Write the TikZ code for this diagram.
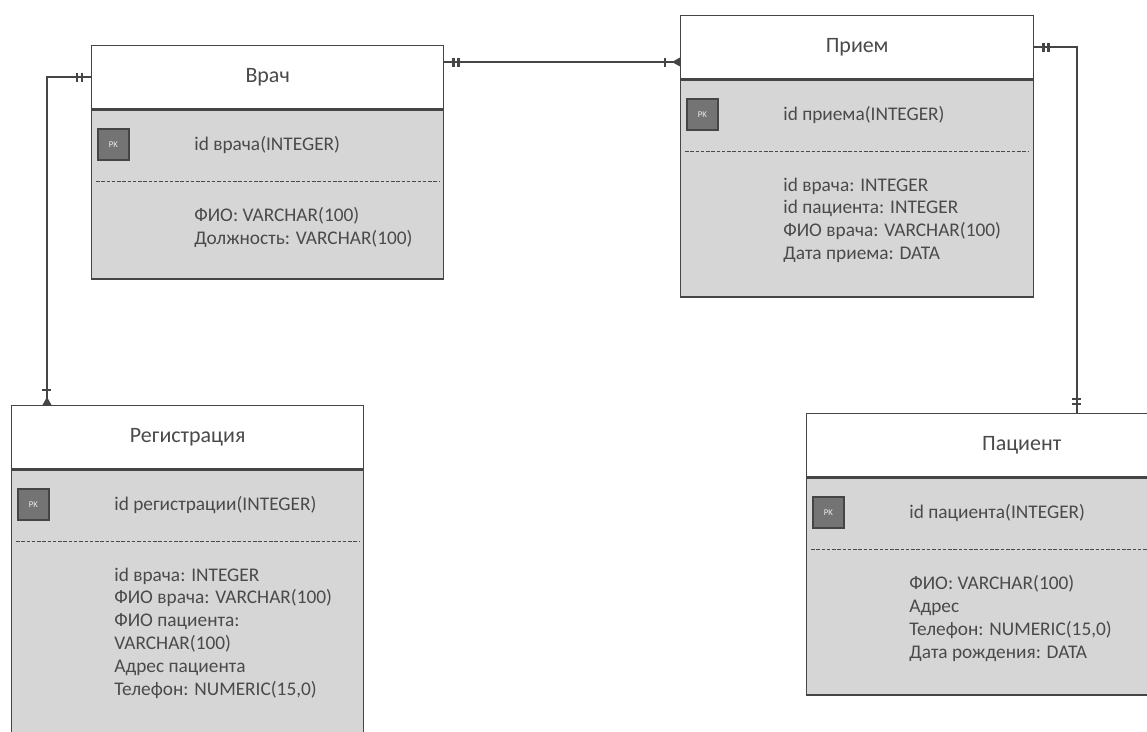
\documentclass[tikz,border=0pt]{standalone}
\usepackage{fontspec}
\setmainfont{Carlito}
\usetikzlibrary{positioning, decorations.markings}

\definecolor{ramka}{HTML}{454545}
\definecolor{sivo}{HTML}{D6D6D6}
\definecolor{tekst}{HTML}{4A4A4A}
\definecolor{kljuc}{HTML}{747474}

\begin{document}
\begin{tikzpicture}[x=0.02cm, y=-0.02cm, font=\fontsize{11}{13}\selectfont, text=tekst,
    naslov/.style={rectangle, draw=ramka, line width=0.8pt, fill=white, anchor=north west,
                   minimum height=1.26cm, inner sep=0pt, font=\fontsize{12.5}{14}\selectfont},
    telo/.style={rectangle, draw=ramka, line width=0.8pt, fill=sivo, inner sep=0pt},
    pk/.style={rectangle, draw=ramka, line width=1pt, fill=kljuc, anchor=north west,
               minimum size=0.62cm, inner sep=0pt, font=\fontsize{5}{6}\selectfont, text=white!85!gray},
    kljucpolje/.style={anchor=west, inner sep=0pt},
    polja/.style={anchor=north west, align=left, inner sep=0pt},
    crta/.style={draw=tekst, line width=0.5pt, dash pattern=on 2pt off 1pt},
    veza/.style={draw=ramka, line width=1pt},
    zub/.style={draw=ramka, line width=1.4pt},
    jedan poc/.style={postaction={decorate, decoration={markings,
        mark=at position 0.18cm with {\draw[zub] (0,-0.09cm) -- (0,0.09cm) (0.1cm,-0.09cm) -- (0.1cm,0.09cm);}}}},
    jedan kraj/.style={postaction={decorate, decoration={markings,
        mark=at position -0.28cm with {\draw[zub] (0,-0.09cm) -- (0,0.09cm) (0.1cm,-0.09cm) -- (0.1cm,0.09cm);}}}},
    vise kraj/.style={postaction={decorate, decoration={markings,
        mark=at position -0.3cm with {\draw[zub] (0,-0.09cm) -- (0,0.09cm);
                                      \fill[ramka] (0.14cm,0) -- (0.3cm,0.09cm) -- (0.3cm,-0.09cm) -- cycle;}}}}]

    \useasboundingbox (0,0) rectangle (1147,731);
    \clip (0,0) rectangle (1147,731);

    % ---------------- Врач ----------------
    \node (vrachH) [naslov, minimum width=7.04cm] at (91,45) {Врач};
    \node (vrachB) [telo, minimum width=7.04cm, minimum height=3.38cm, below=0pt of vrachH] {};
    \node (vrachPK) [pk] at ([xshift=0.12cm, yshift=-0.38cm]vrachB.north west) {PK};
    \node (vrachK) [kljucpolje] at ([xshift=2.06cm, yshift=-0.72cm]vrachB.north west) {id врача(INTEGER)};
    \draw [crta] ([xshift=0.1cm, yshift=-1.44cm]vrachB.north west) -- ([xshift=-0.1cm, yshift=-1.44cm]vrachB.north east);
    \node (vrachP) [polja] at ([xshift=2.06cm, yshift=-1.96cm]vrachB.north west)
        {ФИО: VARCHAR(100)\\ Должность: VARCHAR(100)};

    % ---------------- Прием ----------------
    \node (priemH) [naslov, minimum width=7.06cm] at (680,15) {Прием};
    \node (priemB) [telo, minimum width=7.06cm, minimum height=4.34cm, below=0pt of priemH] {};
    \node (priemPK) [pk] at ([xshift=0.12cm, yshift=-0.38cm]priemB.north west) {PK};
    \node (priemK) [kljucpolje] at ([xshift=2.06cm, yshift=-0.72cm]priemB.north west) {id приема(INTEGER)};
    \draw [crta] ([xshift=0.1cm, yshift=-1.44cm]priemB.north west) -- ([xshift=-0.1cm, yshift=-1.44cm]priemB.north east);
    \node (priemP) [polja] at ([xshift=2.06cm, yshift=-1.96cm]priemB.north west)
        {id врача: INTEGER\\ id пациента: INTEGER\\ ФИО врача: VARCHAR(100)\\ Дата приема: DATA};

    % ---------------- Регистрация ----------------
    \node (regH) [naslov, minimum width=7.04cm] at (11,405) {Регистрация};
    \node (regB) [telo, minimum width=7.04cm, minimum height=6.2cm, below=0pt of regH] {};
    \node (regPK) [pk] at ([xshift=0.12cm, yshift=-0.38cm]regB.north west) {PK};
    \node (regK) [kljucpolje] at ([xshift=2.06cm, yshift=-0.72cm]regB.north west) {id регистрации(INTEGER)};
    \draw [crta] ([xshift=0.1cm, yshift=-1.44cm]regB.north west) -- ([xshift=-0.1cm, yshift=-1.44cm]regB.north east);
    \node (regP) [polja] at ([xshift=2.06cm, yshift=-1.96cm]regB.north west)
        {id врача: INTEGER\\ ФИО врача: VARCHAR(100)\\ ФИО пациента:\\ VARCHAR(100)\\ Адрес пациента\\ Телефон: NUMERIC(15,0)};

    % ---------------- Пациент ----------------
    \node (pacH) [naslov, minimum width=8.6cm] at (806,413) {Пациент};
    \node (pacB) [telo, minimum width=8.6cm, minimum height=4.34cm, below=0pt of pacH] {};
    \node (pacPK) [pk] at ([xshift=0.12cm, yshift=-0.38cm]pacB.north west) {PK};
    \node (pacK) [kljucpolje] at ([xshift=2.06cm, yshift=-0.72cm]pacB.north west) {id пациента(INTEGER)};
    \draw [crta] ([xshift=0.1cm, yshift=-1.44cm]pacB.north west) -- ([xshift=-0.1cm, yshift=-1.44cm]pacB.north east);
    \node (pacP) [polja] at ([xshift=2.06cm, yshift=-1.96cm]pacB.north west)
        {ФИО: VARCHAR(100)\\ Адрес\\ Телефон: NUMERIC(15,0)\\ Дата рождения: DATA};

    % ---------------- veze ----------------
    \coordinate (vp) at ([yshift=-0.34cm]vrachH.north east);
    \draw [veza, jedan poc, vise kraj] (vp) -- (vp -| priemH.west);
    \draw [veza, jedan poc, vise kraj] (vrachH.west) -| ([xshift=0.72cm]regH.north west);
    \draw [veza, jedan poc, jedan kraj] (priemH.east) -| ([xshift=5.42cm]pacH.north west);
\end{tikzpicture}
\end{document}
